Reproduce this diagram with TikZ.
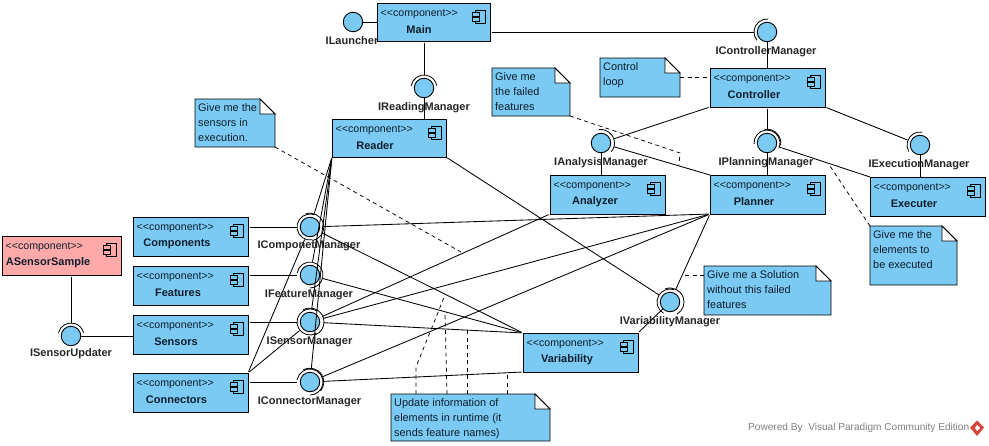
\documentclass[tikz,border=0pt]{standalone}
\usepackage{fontspec}
\setmainfont{Liberation Sans}
\definecolor{compblue}{HTML}{7ACAF3}
\definecolor{comppink}{HTML}{FFA9A9}
\definecolor{inktext}{HTML}{0E1E2C}
\definecolor{logored}{HTML}{D8443C}
\tikzset{
  compshape/.style={draw=black,line width=0.9pt,inner sep=0pt,outer sep=0pt,anchor=north west},
  stereo/.style={font=\fontsize{10.6}{13}\selectfont,text=inktext,inner sep=0pt,anchor=west},
  compname/.style={font=\fontsize{11}{13}\selectfont\bfseries,text=inktext,inner sep=0pt},
  ifaceball/.style={circle,draw=black,line width=0.9pt,fill=compblue,minimum size=19.5pt,inner sep=0pt,outer sep=0pt},
  ifacesocket/.style={circle,minimum size=27pt,inner sep=0pt,outer sep=0pt},
  ifacename/.style={font=\fontsize{11}{13}\selectfont\bfseries,text=black!85,inner sep=0pt},
  sockarc/.style={draw=black,line width=0.8pt},
  wire/.style={draw=black,line width=0.85pt,shorten <=1.5pt},
  notewire/.style={draw=black,line width=0.75pt,dash pattern=on 4pt off 3.5pt},
  noteanchor/.style={inner sep=0pt,outer sep=0pt,anchor=north west},
  notetext/.style={font=\fontsize{10.9}{15}\selectfont,text=inktext,inner sep=0pt,anchor=north west,align=left},
}
% name, x1, y1, x2, y2, label, label centre x, fill
\newcommand{\compbox}[8]{%
  \node[compshape,fill=#8,minimum width={#4pt-#2pt},minimum height={#5pt-#3pt}] (#1) at (#2,#3) {};
  \node[stereo] (#1s) at (#2+3.5,#3+11) {<{}<component>{}>};
  \node[compname] (#1l) at (#7,#3+26.5) {#6};
  \begin{scope}[shift={(#1.north east)},line width=0.9pt]
    \draw (-14.5,7) rectangle (-4.5,20);
    \filldraw[fill=#8] (-18,9.5) rectangle (-11,13);
    \filldraw[fill=#8] (-18,14.5) rectangle (-11,18);
  \end{scope}
}
% name, cx, cy, label, label cx, label cy
\newcommand{\ifacebox}[6]{%
  \node[ifacesocket] (#1o) at (#2,#3) {};
  \node[ifaceball] (#1) at (#2,#3) {};
  \coordinate (#1t) at (#5,#6);
  \expandafter\gdef\csname lab#1\endcsname{\node[ifacename] (#1l) at (#1t) {#4};}%
}
% centre node, start, end, radius
\newcommand{\sockat}[4]{%
  \draw[sockarc] ([shift={(#2:#4)}]#1.center) arc[start angle=#2,end angle=#3,radius=#4];
}
% name, x1, y1, x2, y2, text
\newcommand{\notebox}[6]{%
  \filldraw[fill=compblue,draw=black,line width=0.9pt] (#2,#3) -- (#4-15,#3) -- (#4,#3+15) -- (#4,#5) -- (#2,#5) -- cycle;
  \filldraw[fill=white,draw=black,line width=0.9pt] (#4-15,#3) -- (#4-15,#3+15) -- (#4,#3+15) -- cycle;
  \node[noteanchor,minimum width={#4pt-#2pt},minimum height={#5pt-#3pt}] (#1) at (#2,#3) {};
  \node[notetext] (#1t) at (#2+3,#3+4.5) {#6};
}
\begin{document}
\begin{tikzpicture}[x=1pt,y=-1pt]
\fill[white] (0,0) rectangle (989,445);
\useasboundingbox (0,0) rectangle (989,445);

% nodes
\compbox{main}{377}{3}{490}{41}{Main}{419}{compblue}
\compbox{reader}{332}{119}{446}{157}{Reader}{375}{compblue}
\compbox{controller}{710}{68}{825}{107}{Controller}{754}{compblue}
\compbox{analyzer}{550}{175}{665}{214}{Analyzer}{595}{compblue}
\compbox{planner}{710}{175}{825}{214}{Planner}{754}{compblue}
\compbox{executer}{870}{177}{985}{216}{Executer}{914}{compblue}
\compbox{components}{133}{217}{248}{256}{Components}{177}{compblue}
\compbox{features}{133}{266}{248}{305}{Features}{178}{compblue}
\compbox{sensors}{133}{315}{248}{354}{Sensors}{176}{compblue}
\compbox{connectors}{133}{373}{248}{412}{Connectors}{176.5}{compblue}
\compbox{sample}{2}{236}{121}{275}{ASensorSample}{48}{comppink}
\compbox{variability}{523}{333}{638}{372}{Variability}{567}{compblue}

% dashed note links
\coordinate (sensorsend) at (461,252);
\coordinate (failbendA) at (680,153);
\coordinate (failend) at (679,165);
\coordinate (updA) at (416,367);
\coordinate (updB) at (445,295);
\coordinate (updC) at (445,313);
\coordinate (updD) at (467.5,330);
\coordinate (updE) at (507,373);
\coordinate (execend) at (830,166);
\coordinate (solend) at (683,275);

\notebox{nsensors}{195}{99}{275}{147}{Give me the\\sensors in\\execution.}
\notebox{nfailed}{492}{68}{570}{116}{Give me\\the failed\\features}
\notebox{nloop}{600}{58}{680}{97}{Control\\loop}
\notebox{nexec}{870}{226}{957}{285}{Give me the\\elements to\\be executed}
\notebox{nsol}{704}{266}{831}{315}{Give me a Solution\\without this failed\\features}
\notebox{nupdate}{391}{394}{550}{441}{Update information of\\elements in runtime (it\\sends feature names)}

\draw[notewire] (nsensors.south east) -- (sensorsend);
\draw[notewire] (nfailed.south east) -- (failbendA) -- (failend);
\draw[notewire] (nloop.east) -- (nloop.east -| controller.west);
\draw[notewire] (nexec.north west) -- (execend);
\draw[notewire] (nsol.west |- solend) -- (solend);
\draw[notewire] (nupdate.north west -| updA) -- (updA) -- (updB);
\draw[notewire] ([xshift=56pt]nupdate.north west) -- (updC);
\draw[notewire] (nupdate.north west -| updD) -- (updD);
\draw[notewire] (nupdate.north west -| updE) -- (updE);

% interface balls
\ifacebox{ilauncher}{353}{22}{ILauncher}{352}{40.5}
\ifacebox{ireading}{424}{88}{IReadingManager}{424}{107.5}
\ifacebox{icontrol}{767}{32}{IControllerManager}{766}{51.5}
\ifacebox{ianalysis}{601}{143}{IAnalysisManager}{601}{163}
\ifacebox{iplanning}{767}{143}{IPlanningManager}{766}{163}
\ifacebox{iexec}{920}{145}{IExecutionManager}{919}{165}
\ifacebox{iupdater}{71}{336}{ISensorUpdater}{71}{353.5}
\ifacebox{icomp}{310}{227}{IComponetManager}{309}{246}
\ifacebox{ifeat}{310}{275}{IFeatureManager}{309}{295}
\ifacebox{isens}{310}{322}{ISensorManager}{309.5}{342}
\ifacebox{iconn}{310}{382}{IConnectorManager}{309.5}{401.5}
\ifacebox{ivar}{670}{302}{IVariabilityManager}{670}{322}

% wires
\draw[wire,shorten <=0pt] (ilauncher) -- (main.west |- ilauncher);
\draw[wire] (main.south -| ireading) -- (ireadingo);
\draw[wire,shorten <=0pt] (ireading) -- (ireading |- reader.north);
\draw[wire] (main.east |- icontrol) -- (icontrolo);
\draw[wire,shorten <=0pt] (icontrol) -- (icontrol |- controller.north);
\draw[wire] (controller.south west) -- (ianalysiso);
\draw[wire] (controller.south -| iplanning) -- (iplanningo);
\draw[wire] (controller.south east) -- (iexeco);
\draw[wire,shorten <=0pt] (ianalysis) -- (ianalysis |- analyzer.north);
\draw[wire,shorten <=0pt] (iplanning) -- (iplanning |- planner.north);
\draw[wire,shorten <=0pt] (iexec) -- (iexec |- executer.north);
\draw[wire,shorten <=0pt] (ianalysiso) -- (planner.north west);
\draw[wire,shorten <=0pt] (iplanningo) -- (executer.north west);
\draw[wire] (components.east |- icomp) -- (icompo);
\draw[wire] (features.east |- ifeat) -- (ifeato);
\draw[wire] (sensors.east |- isens) -- (isenso);
\draw[wire] (connectors.east |- iconn) -- (iconno);
\draw[wire] (sample.south -| iupdater) -- (iupdatero);
\draw[wire,shorten <=0pt] (iupdater) -- (sensors.west |- iupdater);
\draw[wire] (reader.south west) -- (icompo);
\draw[wire] (reader.south west) -- (ifeato);
\draw[wire] (reader.south west) -- (isenso);
\draw[wire] (reader.south west) -- (iconno);
\draw[wire] (connectors.north east) -- (icompo);
\draw[wire] (connectors.north east) -- (isenso);
\draw[wire] (planner.south west) -- (icompo);
\draw[wire] (analyzer.south west) -- (isenso);
\draw[wire] (planner.south west) -- (isenso);
\draw[wire] (planner.south west) -- (iconno);
\draw[wire] (planner.south west) -- (ivaro);
\draw[wire] (reader.south east) -- (ivaro);
\draw[wire] (variability.north west) -- (icompo);
\draw[wire] (variability.north west) -- (ifeato);
\draw[wire] (variability.north west) -- (isenso);
\draw[wire] (variability.south west) -- (iconno);
\draw[wire] (variability.north east) -- (ivar);

% sockets
\sockat{ireading}{190}{350}{13}
\sockat{icontrol}{140}{275}{13}
\sockat{ianalysis}{260}{400}{13.5}
\sockat{iplanning}{175}{385}{13}
\sockat{iplanning}{260}{370}{13.8}
\sockat{iexec}{150}{280}{13}
\sockat{iupdater}{195}{345}{13}
\sockat{icomp}{80}{290}{13}
\sockat{icomp}{250}{440}{13.8}
\sockat{ifeat}{190}{450}{13}
\sockat{isens}{60}{300}{13}
\sockat{isens}{240}{430}{14}
\sockat{iconn}{190}{450}{13}
\sockat{iconn}{240}{400}{13.8}
\sockat{ivar}{120}{290}{13}
\sockat{ivar}{250}{420}{14}

% interface labels on top of the wires
\csname labilauncher\endcsname
\csname labireading\endcsname
\csname labicontrol\endcsname
\csname labianalysis\endcsname
\csname labiplanning\endcsname
\csname labiexec\endcsname
\csname labiupdater\endcsname
\csname labicomp\endcsname
\csname labifeat\endcsname
\csname labisens\endcsname
\csname labiconn\endcsname
\csname labivar\endcsname

% footer
\node[font=\fontsize{10.1}{12}\selectfont,text=black!50,inner sep=0pt,anchor=west] (powered) at (748,428) {Powered By\ \ Visual Paradigm Community Edition};
\fill[logored] (977,420.5) -- (984,427.5) -- (977,436) -- (970,427.5) -- cycle;
\fill[white] (977,425) -- (980,428) -- (977,431) -- (975,428) -- cycle;
\end{tikzpicture}
\end{document}
